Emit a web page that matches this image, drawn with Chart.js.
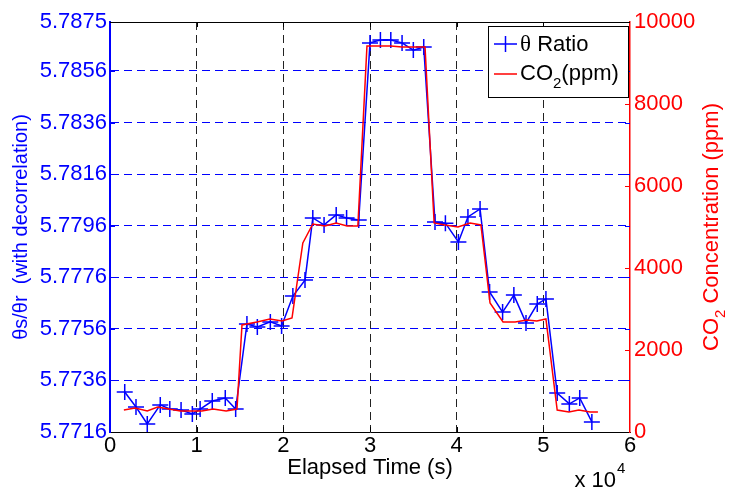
<!DOCTYPE html>
<html>
<head>
<meta charset="utf-8">
<script src="https://cdn.jsdelivr.net/npm/chart.js@4.4.1/dist/chart.umd.min.js"></script>
<style>
  html, body { margin: 0; padding: 0; background: #fff; }
</style>
</head>
<body>
<canvas id="chart" width="730" height="491"></canvas>
<script>
// theta ratio samples (time in s, ratio)
const ratioTime = [1700, 3000, 4300, 5800, 6900, 8200, 9500, 10400, 11800, 13300, 14500,
  15800, 17000, 18500, 19800, 21100, 22500, 23400, 24700, 26100, 27300, 28700,
  30000, 31200, 32400, 33700, 35000, 36200, 37500, 38700, 40200, 41300, 42700,
  43800, 45300, 46600, 48000, 49300, 50300, 51600, 53000, 54200, 55600];
const ratioValue = [5.77315, 5.77257, 5.77191, 5.77265, 5.77249, 5.77245, 5.7723, 5.77249, 5.7728, 5.77292, 5.77249,
  5.77579, 5.77567, 5.77587, 5.77571, 5.77687, 5.77749, 5.7799, 5.77963, 5.78002, 5.7799, 5.77982,
  5.78669, 5.7868, 5.7868, 5.78669, 5.78641, 5.78653, 5.77974, 5.7797, 5.77897, 5.77994, 5.78025,
  5.77703, 5.77625, 5.77691, 5.77583, 5.77656, 5.77676, 5.77311, 5.77269, 5.77292, 5.77199];

// CO2 samples (time in s, ppm)
const co2Time = [1600, 2900, 4300, 5500, 6800, 8100, 9300, 10600, 11900, 13400, 14650,
  15230, 16950, 18450, 19850, 21000, 22250, 23400, 24800, 26100, 27350, 28600,
  29650, 30900, 32400, 33700, 34950, 36350, 37400, 38650, 40150, 41550, 42800,
  43850, 45350, 46750, 48100, 49250, 50300, 51600, 52950, 54100, 55400, 56300];
const co2Value = [537, 585, 512, 610, 561, 512, 512, 512, 561, 512, 561,
  2610, 2683, 2756, 2707, 2780, 4610, 5073, 5024, 5098, 5024, 5024,
  9415, 9415, 9415, 9390, 9390, 9390, 5098, 5049, 5000, 5098, 5049,
  3146, 2683, 2683, 2732, 2707, 2756, 537, 488, 537, 488, 488];

// axis ticks
const timeTicks = [0, 10000, 20000, 30000, 40000, 50000, 60000];
const timeTickLabels = ["0", "1", "2", "3", "4", "5", "6"];
const leftTicks = [5.7716, 5.7736, 5.7756, 5.7776, 5.7796, 5.7816, 5.7836, 5.7856, 5.7875];
const leftTickLabels = ["5.7716", "5.7736", "5.7756", "5.7776", "5.7796", "5.7816", "5.7836", "5.7856", "5.7875"];
const rightTicks = [0, 2000, 4000, 6000, 8000, 10000];

const BLUE = "#0000ff";
const RED = "#ff0000";
const FONT = "'Liberation Sans', Arial, Helvetica, sans-serif";
Chart.defaults.font.family = FONT;

// tanda tick ke dalam, garis atas, legenda, judul kanan dan faktor x10^4
const extrasPlugin = {
  id: "extras",
  afterDraw(chart) {
    const ctx = chart.ctx;
    const a = chart.chartArea;
    const xs = chart.scales.x, yl = chart.scales.yLeft, yr = chart.scales.yRight;
    ctx.save();

    // garis atas
    ctx.strokeStyle = "#000";
    ctx.lineWidth = 1;
    ctx.beginPath();
    ctx.moveTo(a.left, a.top + 0.5);
    ctx.lineTo(a.right, a.top + 0.5);
    ctx.stroke();

    // tick x
    timeTicks.slice(1, -1).forEach((v) => {
      const px = Math.round(xs.getPixelForValue(v)) + 0.5;
      ctx.beginPath();
      ctx.moveTo(px, a.bottom); ctx.lineTo(px, a.bottom - 5);
      ctx.moveTo(px, a.top); ctx.lineTo(px, a.top + 5);
      ctx.stroke();
    });
    // tick kiri (biru) di kedua sisi
    ctx.strokeStyle = BLUE;
    leftTicks.slice(1, -1).forEach((v) => {
      const py = Math.round(yl.getPixelForValue(v)) + 0.5;
      ctx.beginPath();
      ctx.moveTo(a.left, py); ctx.lineTo(a.left + 5, py);
      ctx.moveTo(a.right, py); ctx.lineTo(a.right - 5, py);
      ctx.stroke();
    });
    // tick kanan (merah)
    ctx.strokeStyle = RED;
    rightTicks.slice(1, -1).forEach((v) => {
      const py = Math.round(yr.getPixelForValue(v)) + 0.5;
      ctx.beginPath();
      ctx.moveTo(a.right, py); ctx.lineTo(a.right - 5, py);
      ctx.stroke();
    });

    // legenda
    const lx = a.right - 142, ly = a.top + 4, lw = 140, lh = 71;
    ctx.fillStyle = "#fff";
    ctx.fillRect(lx, ly, lw, lh);
    ctx.strokeStyle = "#000";
    ctx.lineWidth = 1;
    ctx.strokeRect(lx + 0.5, ly + 0.5, lw, lh);

    const row1 = ly + 18, row2 = ly + 48;
    ctx.strokeStyle = BLUE;
    ctx.lineWidth = 1.5;
    ctx.beginPath();
    ctx.moveTo(lx + 6, row1); ctx.lineTo(lx + 29, row1);
    ctx.moveTo(lx + 17.5, row1 - 8); ctx.lineTo(lx + 17.5, row1 + 8);
    ctx.stroke();
    ctx.strokeStyle = RED;
    ctx.beginPath();
    ctx.moveTo(lx + 6, row2); ctx.lineTo(lx + 29, row2);
    ctx.stroke();

    ctx.fillStyle = "#000";
    ctx.textBaseline = "middle";
    ctx.textAlign = "left";
    let tx = lx + 32;
    ctx.font = "23px 'Liberation Serif', 'Times New Roman', serif";
    ctx.fillText("θ", tx, row1 + 1);
    tx += ctx.measureText("θ").width;
    ctx.font = "22px " + FONT;
    ctx.fillText(" Ratio", tx, row1 + 1);

    tx = lx + 32;
    ctx.fillText("CO", tx, row2);
    tx += ctx.measureText("CO").width;
    ctx.font = "15px " + FONT;
    ctx.fillText("2", tx, row2 + 10);
    tx += ctx.measureText("2").width;
    ctx.font = "22px " + FONT;
    ctx.fillText("(ppm)", tx, row2);

    // judul sumbu kanan dengan subskrip
    ctx.save();
    ctx.translate(712, (a.top + a.bottom) / 2);
    ctx.rotate(-Math.PI / 2);
    ctx.fillStyle = RED;
    ctx.font = "22px " + FONT;
    const wCO = ctx.measureText("CO").width;
    const wRest = ctx.measureText(" Concentration (ppm)").width;
    ctx.font = "15px " + FONT;
    const w2 = ctx.measureText("2").width;
    let sx = -(wCO + w2 + wRest) / 2;
    ctx.font = "22px " + FONT;
    ctx.fillText("CO", sx, 0);
    sx += wCO;
    ctx.font = "15px " + FONT;
    ctx.fillText("2", sx, 9);
    sx += w2;
    ctx.font = "22px " + FONT;
    ctx.fillText(" Concentration (ppm)", sx, 0);
    ctx.restore();

    // faktor skala x 10^4
    ctx.fillStyle = "#000";
    ctx.font = "22px " + FONT;
    ctx.textAlign = "right";
    ctx.fillText("x 10", a.right - 14, 481);
    ctx.textAlign = "left";
    ctx.font = "15px " + FONT;
    ctx.fillText("4", a.right - 13, 469);

    ctx.restore();
  },
};

const tickFont = { size: 22, family: FONT };

const chart = new Chart(document.getElementById("chart"), {
  type: "line",
  data: {
    datasets: [
      {
        label: "CO2(ppm)",
        data: co2Time.map((t, i) => ({ x: t, y: co2Value[i] })),
        yAxisID: "yRight",
        borderColor: RED,
        borderWidth: 1.5,
        pointRadius: 0,
        tension: 0,
      },
      {
        label: "θ Ratio",
        data: ratioTime.map((t, i) => ({ x: t, y: ratioValue[i] })),
        yAxisID: "yLeft",
        borderColor: BLUE,
        borderWidth: 1.5,
        pointStyle: "cross",
        pointRadius: 8,
        pointBorderWidth: 1.5,
        pointBorderColor: BLUE,
        tension: 0,
      },
    ],
  },
  options: {
    responsive: false,
    animation: false,
    layout: { padding: { top: 22, left: 0, right: 0, bottom: 0 } },
    plugins: { legend: { display: false }, tooltip: { enabled: false } },
    scales: {
      x: {
        type: "linear",
        min: 0,
        max: 60000,
        afterBuildTicks: (s) => { s.ticks = timeTicks.map((v) => ({ value: v })); },
        afterFit: (s) => { s.height = 59; },
        ticks: {
          color: "#000",
          font: tickFont,
          padding: 1,
          maxRotation: 0,
          autoSkip: false,
          callback: (v) => timeTickLabels[timeTicks.indexOf(v)],
        },
        grid: {
          drawTicks: false,
          lineWidth: 1,
          color: (c) => (c.tick && (c.tick.value === 0 || c.tick.value === 60000)) ? "rgba(0,0,0,0)" : "#222",
        },
        border: { color: "#000", width: 1, dash: [8, 5] },
        title: {
          display: true,
          text: "Elapsed Time (s)",
          color: "#000",
          font: { size: 22, family: FONT },
          padding: { top: 0, bottom: 10 },
        },
      },
      yLeft: {
        type: "linear",
        position: "left",
        min: 5.7716,
        max: 5.7875,
        afterBuildTicks: (s) => { s.ticks = leftTicks.map((v) => ({ value: v })); },
        afterFit: (s) => { s.width = 110; },
        ticks: {
          color: BLUE,
          font: tickFont,
          padding: 3,
          autoSkip: false,
          callback: (v) => leftTickLabels[leftTicks.indexOf(v)],
        },
        grid: {
          drawTicks: false,
          lineWidth: 1,
          color: (c) => (c.tick && (c.tick.value === leftTicks[0] || c.tick.value === leftTicks[leftTicks.length - 1])) ? "rgba(0,0,0,0)" : BLUE,
        },
        border: { color: BLUE, width: 2, dash: [8, 5] },
        title: {
          display: true,
          text: "θs/θr  (with decorrelation)",
          color: BLUE,
          font: { size: 20, family: FONT },
          padding: { top: 9, bottom: 0 },
        },
      },
      yRight: {
        type: "linear",
        position: "right",
        min: 0,
        max: 10000,
        afterBuildTicks: (s) => { s.ticks = rightTicks.map((v) => ({ value: v })); },
        afterFit: (s) => { s.width = 100; },
        ticks: {
          color: RED,
          font: tickFont,
          padding: 4,
          autoSkip: false,
          callback: (v) => String(v),
        },
        grid: { drawOnChartArea: false, drawTicks: false },
        border: { color: RED, width: 1.5 },
      },
    },
  },
  plugins: [extrasPlugin],
});
</script>
</body>
</html>
